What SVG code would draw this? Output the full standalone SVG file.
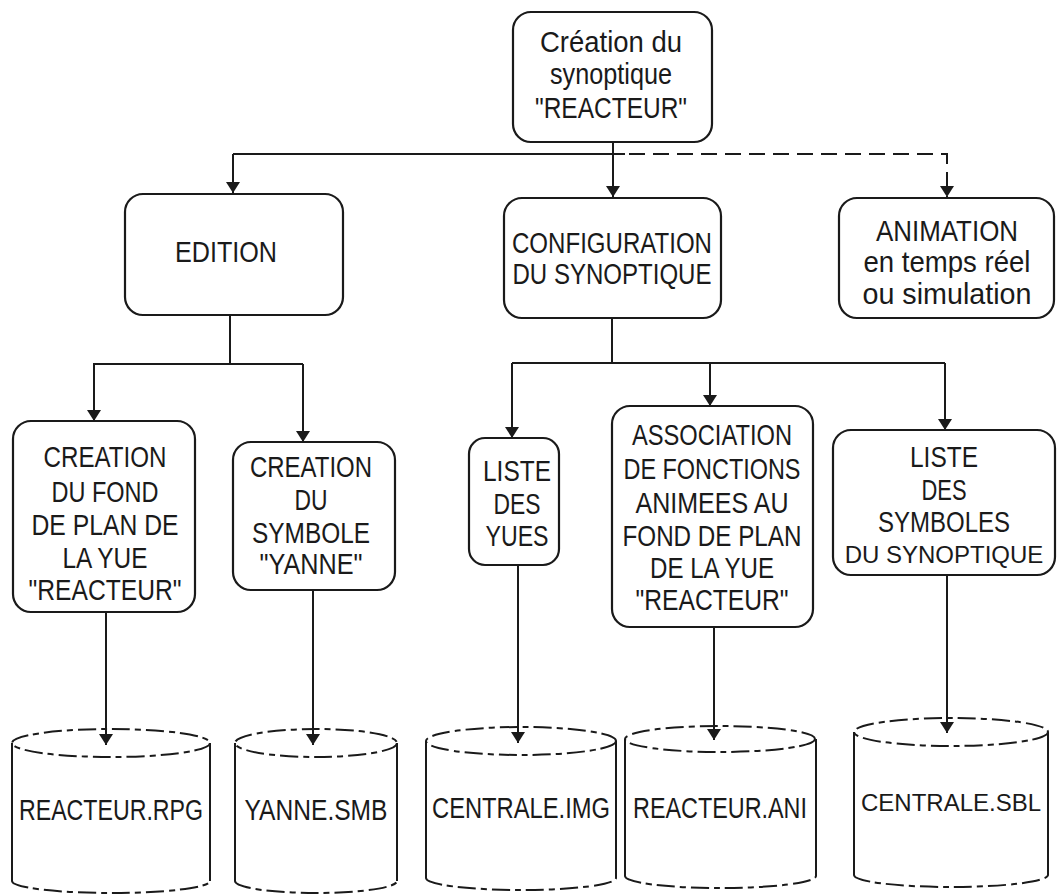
<svg xmlns="http://www.w3.org/2000/svg" width="1057" height="895" viewBox="0 0 1057 895">
<defs>
<style>
.bg{fill:#ffffff}
.box{fill:none;stroke:#1a1a1a;stroke-width:2.2}
.ln{fill:none;stroke:#1a1a1a;stroke-width:2}
.dash{fill:none;stroke:#1a1a1a;stroke-width:2;stroke-dasharray:16 8}
.cyl{fill:none;stroke:#1a1a1a;stroke-width:2;stroke-dasharray:18 5 6 5}
.side{fill:none;stroke:#1a1a1a;stroke-width:2}
.t{font-family:"Liberation Sans",Arial,sans-serif;font-size:29px;text-anchor:middle;fill:#1a1a1a}
.t24{font-size:24px}
</style>
<marker id="ah" markerUnits="userSpaceOnUse" markerWidth="12" markerHeight="14" refX="11" refY="7" orient="auto">
<path d="M0,0 L11,7 L0,14 z" fill="#1a1a1a"/>
</marker>
</defs>
<rect class="bg" x="0" y="0" width="1057" height="895"/>

<g id="connectors">
<path class="ln" d="M613,142 V197" marker-end="url(#ah)"/>
<path class="ln" d="M233,154 H625"/>
<path class="ln" d="M233,154 V193" marker-end="url(#ah)"/>
<path class="dash" d="M629,154 H947 V197" marker-end="url(#ah)"/>
<path class="ln" d="M230,315 V364 M93,364 H303"/>
<path class="ln" d="M94,364 V421" marker-end="url(#ah)"/>
<path class="ln" d="M303,364 V442" marker-end="url(#ah)"/>
<path class="ln" d="M612,318 V363 M512,363 H945"/>
<path class="ln" d="M512,363 V438" marker-end="url(#ah)"/>
<path class="ln" d="M710,363 V406" marker-end="url(#ah)"/>
<path class="ln" d="M945,363 V430" marker-end="url(#ah)"/>
<path class="ln" d="M106,612 V745" marker-end="url(#ah)"/>
<path class="ln" d="M313,590 V745" marker-end="url(#ah)"/>
<path class="ln" d="M518,565 V743" marker-end="url(#ah)"/>
<path class="ln" d="M714,627 V740" marker-end="url(#ah)"/>
<path class="ln" d="M947,575 V733" marker-end="url(#ah)"/>
</g>

<g id="n-root">
<rect class="box" x="513" y="12" width="199" height="130" rx="18"/>
<text class="t" x="611" y="52" textLength="142" lengthAdjust="spacingAndGlyphs">Création du</text>
<text class="t" x="611" y="84" textLength="122" lengthAdjust="spacingAndGlyphs">synoptique</text>
<text class="t" x="611" y="118" textLength="152" lengthAdjust="spacingAndGlyphs">"REACTEUR"</text>
</g>

<g id="n-edition">
<rect class="box" x="125" y="194" width="218" height="121" rx="18"/>
<text class="t" x="226" y="262" textLength="102" lengthAdjust="spacingAndGlyphs">EDITION</text>
</g>

<g id="n-config">
<rect class="box" x="504" y="198" width="217" height="120" rx="18"/>
<text class="t" x="612" y="253" textLength="200" lengthAdjust="spacingAndGlyphs">CONFIGURATION</text>
<text class="t" x="612" y="284" textLength="199" lengthAdjust="spacingAndGlyphs">DU SYNOPTIQUE</text>
</g>

<g id="n-animation">
<rect class="box" x="839" y="198" width="215" height="120" rx="18"/>
<text class="t" x="947" y="241" textLength="142" lengthAdjust="spacingAndGlyphs">ANIMATION</text>
<text class="t" x="947" y="272" textLength="167" lengthAdjust="spacingAndGlyphs">en temps réel</text>
<text class="t" x="947" y="304" textLength="169" lengthAdjust="spacingAndGlyphs">ou simulation</text>
</g>

<g id="n-fond">
<rect class="box" x="13" y="421" width="182" height="191" rx="18"/>
<text class="t" x="105" y="467" textLength="123" lengthAdjust="spacingAndGlyphs">CREATION</text>
<text class="t" x="105" y="502" textLength="107" lengthAdjust="spacingAndGlyphs">DU FOND</text>
<text class="t" x="105" y="535" textLength="147" lengthAdjust="spacingAndGlyphs">DE PLAN DE</text>
<text class="t" x="105" y="568" textLength="85" lengthAdjust="spacingAndGlyphs">LA YUE</text>
<text class="t" x="105" y="600" textLength="153" lengthAdjust="spacingAndGlyphs">"REACTEUR"</text>
</g>

<g id="n-symbole">
<rect class="box" x="233" y="442" width="162" height="148" rx="18"/>
<text class="t" x="311" y="477" textLength="122" lengthAdjust="spacingAndGlyphs">CREATION</text>
<text class="t" x="311" y="510" textLength="33" lengthAdjust="spacingAndGlyphs">DU</text>
<text class="t" x="311" y="543" textLength="118" lengthAdjust="spacingAndGlyphs">SYMBOLE</text>
<text class="t" x="311" y="574" textLength="103" lengthAdjust="spacingAndGlyphs">"YANNE"</text>
</g>

<g id="n-vues">
<rect class="box" x="469" y="438" width="90" height="127" rx="16"/>
<text class="t" x="517" y="481" textLength="68" lengthAdjust="spacingAndGlyphs">LISTE</text>
<text class="t" x="517" y="514" textLength="47" lengthAdjust="spacingAndGlyphs">DES</text>
<text class="t" x="517" y="546" textLength="63" lengthAdjust="spacingAndGlyphs">YUES</text>
</g>

<g id="n-association">
<rect class="box" x="612" y="406" width="201" height="221" rx="18"/>
<text class="t" x="712" y="445" textLength="160" lengthAdjust="spacingAndGlyphs">ASSOCIATION</text>
<text class="t" x="712" y="479" textLength="177" lengthAdjust="spacingAndGlyphs">DE FONCTIONS</text>
<text class="t" x="712" y="513" textLength="153" lengthAdjust="spacingAndGlyphs">ANIMEES AU</text>
<text class="t" x="712" y="546" textLength="179" lengthAdjust="spacingAndGlyphs">FOND DE PLAN</text>
<text class="t" x="712" y="578" textLength="124" lengthAdjust="spacingAndGlyphs">DE LA YUE</text>
<text class="t" x="712" y="610" textLength="153" lengthAdjust="spacingAndGlyphs">"REACTEUR"</text>
</g>

<g id="n-symboles">
<rect class="box" x="833" y="430" width="222" height="145" rx="18"/>
<text class="t" x="944" y="467" textLength="68" lengthAdjust="spacingAndGlyphs">LISTE</text>
<text class="t" x="944" y="500" textLength="45" lengthAdjust="spacingAndGlyphs">DES</text>
<text class="t" x="944" y="532" textLength="132" lengthAdjust="spacingAndGlyphs">SYMBOLES</text>
<text class="t t24" x="944" y="563">DU SYNOPTIQUE</text>
</g>

<g id="db-rpg">
<ellipse class="cyl" cx="111" cy="743" rx="99" ry="14"/>
<path class="side" d="M12,743 V881 M210,743 V881"/>
<path class="cyl" d="M12,881 A99,12 0 0 0 210,881"/>
<text class="t" x="111" y="820" textLength="184" lengthAdjust="spacingAndGlyphs">REACTEUR.RPG</text>
</g>

<g id="db-smb">
<ellipse class="cyl" cx="316" cy="743" rx="81" ry="14"/>
<path class="side" d="M235,743 V881 M397,743 V881"/>
<path class="cyl" d="M235,881 A81,12 0 0 0 397,881"/>
<text class="t" x="316" y="820" textLength="143" lengthAdjust="spacingAndGlyphs">YANNE.SMB</text>
</g>

<g id="db-img">
<ellipse class="cyl" cx="521" cy="741" rx="95" ry="14"/>
<path class="side" d="M426,741 V878 M616,741 V878"/>
<path class="cyl" d="M426,878 A95,12 0 0 0 616,878"/>
<text class="t" x="521" y="818" textLength="178" lengthAdjust="spacingAndGlyphs">CENTRALE.IMG</text>
</g>

<g id="db-ani">
<ellipse class="cyl" cx="720" cy="739" rx="95" ry="13"/>
<path class="side" d="M625,739 V876 M816,739 V876"/>
<path class="cyl" d="M625,876 A95,12 0 0 0 816,876"/>
<text class="t" x="720" y="818" textLength="174" lengthAdjust="spacingAndGlyphs">REACTEUR.ANI</text>
</g>

<g id="db-sbl">
<ellipse class="cyl" cx="951" cy="732" rx="97" ry="14"/>
<path class="side" d="M854,732 V875 M1048,732 V875"/>
<path class="cyl" d="M854,875 A97,12 0 0 0 1048,875"/>
<text class="t t24" x="951" y="811">CENTRALE.SBL</text>
</g>
</svg>
